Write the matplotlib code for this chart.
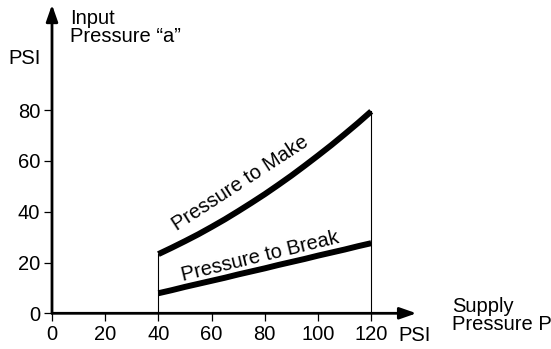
import matplotlib.pyplot as plt

plt.rcParams['font.family'] = ['Liberation Sans', 'DejaVu Sans']

# values (supply pressure, PSI)
supply = [40, 45, 50, 55, 60, 65, 70, 75, 80, 85, 90, 95, 100, 105, 110, 115, 120]
make = [23.3, 25.8, 28.4, 31.1, 34.0, 37.0, 40.2, 43.5, 46.9,
        50.5, 54.2, 58.1, 62.1, 66.2, 70.5, 74.9, 79.5]
brk = [7.9, 9.1, 10.4, 11.6, 12.8, 14.0, 15.3, 16.5, 17.7,
       19.0, 20.2, 21.4, 22.7, 23.9, 25.1, 26.4, 27.6]
xticks = [0, 20, 40, 60, 80, 100, 120]
yticks = [0, 20, 40, 60, 80]

fs = 14.5

fig = plt.figure(figsize=(5.51, 3.49), dpi=100)
ax = fig.add_axes([52 / 551, 35.7 / 349, 138 * 2.66 / 551, 122 * 2.54 / 349])
ax.set_xlim(0, 138)
ax.set_ylim(0, 122)
for s in ax.spines.values():
    s.set_visible(False)

# axis lines with arrow heads
arrow = dict(arrowstyle='-|>,head_length=1.0,head_width=0.35', lw=2.0, color='black',
             shrinkA=0, shrinkB=0)
ax.annotate('', xy=(137, 0), xytext=(0, 0), arrowprops=arrow, annotation_clip=False)
ax.annotate('', xy=(0, 121.5), xytext=(0, 0), arrowprops=arrow, annotation_clip=False)

ax.set_xticks(xticks)
ax.set_yticks(yticks)
ax.tick_params(labelsize=fs, length=6, width=0.9, direction='out', pad=2.5)

# thin verticals at both ends
ax.plot([supply[0], supply[0]], [0, make[0]], color='black', lw=0.8)
ax.plot([supply[-1], supply[-1]], [0, make[-1]], color='black', lw=0.8)

ax.plot(supply, make, color='black', lw=4.3, solid_capstyle='butt')
ax.plot(supply, brk, color='black', lw=4.3, solid_capstyle='butt')

ax.text(70.7, 51.3, 'Pressure to Make', rotation=33, fontsize=fs,
        ha='center', va='center', rotation_mode='anchor')
ax.text(78.2, 22.3, 'Pressure to Break', rotation=13.7, fontsize=fs,
        ha='center', va='center', rotation_mode='anchor')

fig.text(70 / 551, 1 - 41.7 / 349, 'Input\nPressure \u201ca\u201d', fontsize=fs, va='baseline',
         ha='left', linespacing=0.9)
fig.text(8 / 551, 1 - 59 / 349, 'PSI', fontsize=fs, va='center', ha='left')
fig.text(398 / 551, 1 - 335.5 / 349, 'PSI', fontsize=fs, va='center', ha='left')
fig.text(452.5 / 551, 1 - 330 / 349, 'Supply\nPressure P', fontsize=fs, va='baseline',
         ha='left', linespacing=0.9)

fig.savefig('out.png', dpi=100)
